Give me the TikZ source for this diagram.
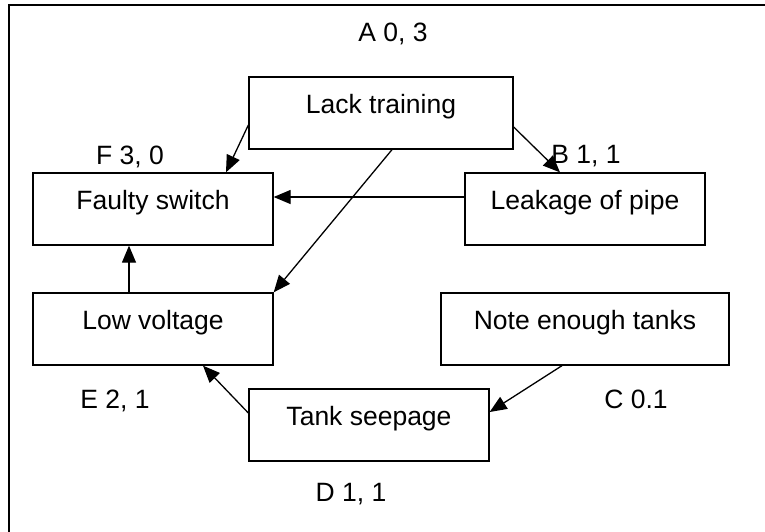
\documentclass[tikz,border=0pt]{standalone}
\usepackage{fontspec}
\setmainfont{Liberation Sans}
\usetikzlibrary{arrows.meta,calc}
\tikzset{
  box/.style={draw, line width=1.3pt, minimum height=72pt, inner sep=0pt,
    font=\fontsize{26.5}{30}\selectfont, text height=19pt, text depth=6pt},
  lbl/.style={anchor=base, inner sep=0pt, font=\fontsize{26.5}{30}\selectfont},
  arr/.style={line width=1.3pt, -{Triangle[length=17pt,width=14pt]}},
}
\newcommand{\up}[1]{\raisebox{6pt}{#1}}
\begin{document}
\begin{tikzpicture}[x=1pt,y=-1pt]
\useasboundingbox (0,0) rectangle (765,531);
\draw[line width=1.3pt] (766,5) -| (9,532);
% boxes
\node[box, minimum width=264pt] (lack) at (381,113) {\up{Lack training}};
\node[box, minimum width=240pt] (faulty) at (153,209) {\up{Faulty switch}};
\node[box, minimum width=240pt] (leak) at (585,209) {\up{Leakage of pipe}};
\node[box, minimum width=240pt] (low) at (153,329) {\up{Low voltage}};
\node[box, minimum width=240pt] (tank) at (369,425) {\up{Tank seepage}};
\node[box, minimum width=288pt] (note) at (585,329) {\up{Note enough tanks}};
% labels
\node[lbl] (la) at (393,41) {A 0, 3};
\node[lbl] (lf) at (130,164) {F 3, 0};
\node[lbl] (lb) at (586,163) {B 1, 1};
\node[lbl] (le) at (115,408) {E 2, 1};
\node[lbl] (ld) at (351,501) {D 1, 1};
\node[lbl] (lc) at (636,408) {C 0.1};
% connectors
\draw[arr] ($(lack.west)+(0,12)$) -- ($(faulty.north)+(73,0)$);
\draw[arr] ($(lack.east)+(0,14)$) -- ($(leak.north)+(-25,0)$);
\draw[arr] ($(leak.west)+(0,-12)$) -- ($(faulty.east)+(0,-12)$);
\draw[arr] ($(lack.south)+(11,0)$) -- (low.north east);
\draw[arr] ($(low.north)+(-24,0)$) -- ($(faulty.south)+(-24,0)$);
\draw[arr] ($(tank.west)+(0,-12)$) -- ($(low.south)+(50,0)$);
\draw[arr] ($(note.south)+(-23,0)$) -- ($(tank.east)+(0,-13)$);
\end{tikzpicture}
\end{document}
